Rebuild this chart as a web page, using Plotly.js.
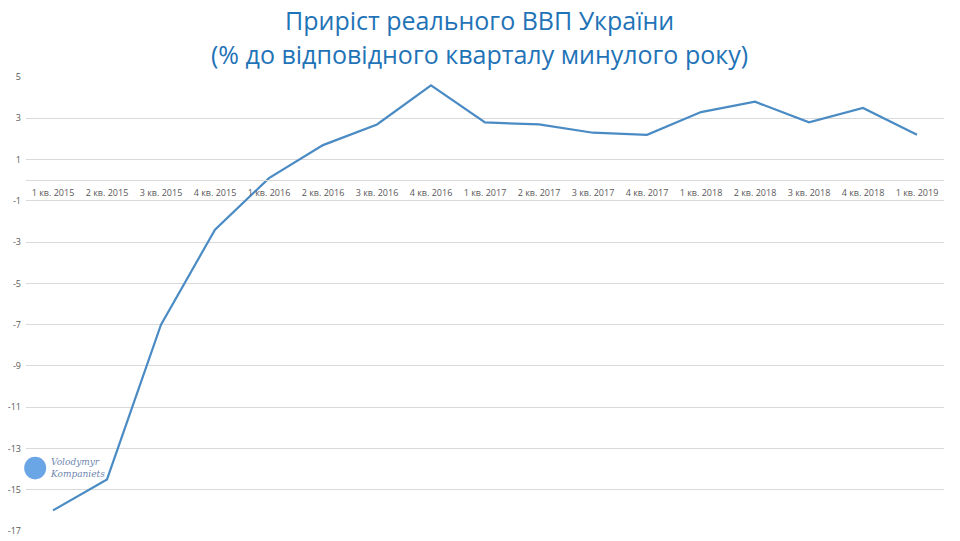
<!DOCTYPE html>
<html>
<head>
<meta charset="utf-8">
<script src="https://cdn.plot.ly/plotly-3.0.1.min.js"></script>
<style>html,body{margin:0;padding:0;background:#fff;}#chart{width:960px;height:541px;}</style>
</head>
<body>
<div id="chart"></div>
<script>
const quarters = ["1 кв. 2015","2 кв. 2015","3 кв. 2015","4 кв. 2015","1 кв. 2016","2 кв. 2016","3 кв. 2016","4 кв. 2016","1 кв. 2017","2 кв. 2017","3 кв. 2017","4 кв. 2017","1 кв. 2018","2 кв. 2018","3 кв. 2018","4 кв. 2018","1 кв. 2019"];
const gdpGrowth = [-16.0,-14.5,-7.0,-2.4,0.1,1.7,2.7,4.6,2.8,2.7,2.3,2.2,3.3,3.8,2.8,3.5,2.2];
const yTicks = [5,3,1,-1,-3,-5,-7,-9,-11,-13,-15,-17];
const titleLine1 = "Приріст реального ВВП України";
const titleLine2 = "(% до відповідного кварталу минулого року)";
const watermark = "Volodymyr<br>Kompaniets";

const yMin = -17, yMax = 5;
const titleFont = {family: "Open Sans, sans-serif", size: 25, color: "#1f73b7"};
const trace = {
  x: quarters, y: gdpGrowth, type: "scatter", mode: "lines",
  line: {color: "#4a8bc4", width: 2.2}, hoverinfo: "x+y"
};
const layout = {
  width: 960, height: 541,
  margin: {l: 26, r: 16, t: 77, b: 10},
  paper_bgcolor: "#fff", plot_bgcolor: "#fff",
  showlegend: false,
  xaxis: {
    type: "category", range: [-0.5, quarters.length - 0.5],
    anchor: "free", position: (0 - yMin) / (yMax - yMin),
    showline: true, linecolor: "#d9d9d9", linewidth: 1,
    showgrid: false, ticks: "", tickfont: {family: "Open Sans, sans-serif", size: 9, color: "#595959"},
    ticklabelstandoff: 4, fixedrange: true
  },
  yaxis: {
    range: [yMin, yMax], tickmode: "array", tickvals: yTicks, ticktext: yTicks.map(String),
    showgrid: true, gridcolor: "#d9d9d9", gridwidth: 1, zeroline: false, showline: false,
    ticks: "", tickfont: {family: "Open Sans, sans-serif", size: 9, color: "#595959"},
    ticklabelstandoff: 4, fixedrange: true
  },
  shapes: [{type: "circle", xref: "paper", yref: "y", x0: -0.002, x1: 0.022, y0: -14.5, y1: -13.4,
    fillcolor: "rgba(80,150,225,0.85)", line: {width: 0}}],
  annotations: [
    {xref: "paper", yref: "paper", x: 0.4935, y: (531 - 20) / 454, xanchor: "center", yanchor: "middle",
      text: titleLine1, showarrow: false, font: titleFont},
    {xref: "paper", yref: "paper", x: 0.4935, y: (531 - 54) / 454, xanchor: "center", yanchor: "middle",
      text: titleLine2, showarrow: false, font: titleFont},
    {xref: "paper", yref: "y", x: 0.024, y: -13.95, xanchor: "left", yanchor: "middle",
      text: watermark, showarrow: false, align: "left",
      font: {family: "DejaVu Serif, serif", size: 9, color: "#6f86b0", style: "italic"}}]
};
Plotly.newPlot("chart", [trace], layout, {displayModeBar: false, staticPlot: true});
</script>
</body>
</html>
